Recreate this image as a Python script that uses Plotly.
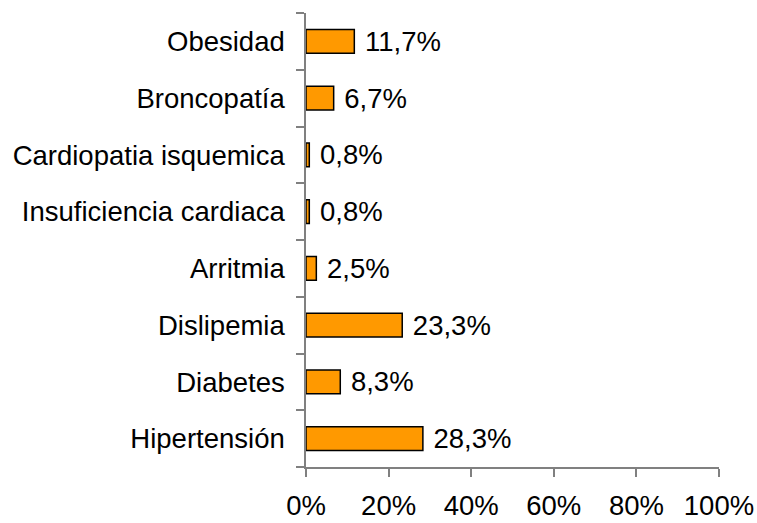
import plotly.graph_objects as go

categories = ["Hipertensión", "Diabetes", "Dislipemia", "Arritmia",
              "Insuficiencia cardiaca", "Cardiopatia isquemica", "Broncopatía", "Obesidad"]
values = [28.3, 8.3, 23.3, 2.5, 0.8, 0.8, 6.7, 11.7]
labels = ["28,3%", "8,3%", "23,3%", "2,5%", "0,8%", "0,8%", "6,7%", "11,7%"]
x_ticks = [0, 20, 40, 60, 80, 100]
x_ticktext = ["0%", "20%", "40%", "60%", "80%", "100%"]

FONT = "Liberation Sans, Arial, sans-serif"
FS = 27.5

fig = go.Figure(go.Bar(
    y=categories, x=values, orientation="h",
    width=0.42,
    marker=dict(color="#FF9900", line=dict(color="#000000", width=1.5)),
    text=[" " + t for t in labels], textposition="outside",
    constraintext="none", cliponaxis=False,
    textfont=dict(family=FONT, size=FS, color="#000000"),
))

fig.update_layout(
    width=757, height=523,
    margin=dict(l=306, r=38, t=13, b=56),
    paper_bgcolor="white", plot_bgcolor="white",
    showlegend=False,
    font=dict(family=FONT, size=FS, color="#000000"),
)
fig.update_xaxes(
    range=[0, 100], tickvals=x_ticks, ticktext=x_ticktext,
    showgrid=False, zeroline=False, automargin=False,
    showline=True, linecolor="#808080", linewidth=1.5,
    ticks="outside", ticklen=8, tickcolor="#808080", tickwidth=1.5,
    ticklabelstandoff=5,
    tickfont=dict(family=FONT, size=FS, color="#000000"),
)
fig.update_yaxes(
    categoryorder="array", categoryarray=categories,
    range=[-0.5, 7.5], automargin=False,
    showgrid=False, zeroline=False,
    showline=True, linecolor="#808080", linewidth=1.5,
    ticks="outside", ticklen=8, tickcolor="#808080", tickwidth=1.5,
    tickson="boundaries", ticklabelstandoff=14,
    tickfont=dict(family=FONT, size=FS, color="#000000"),
)

fig.write_html("out.html", config={"displayModeBar": False},
               post_script="document.body.style.margin='0';document.body.style.padding='0';")
